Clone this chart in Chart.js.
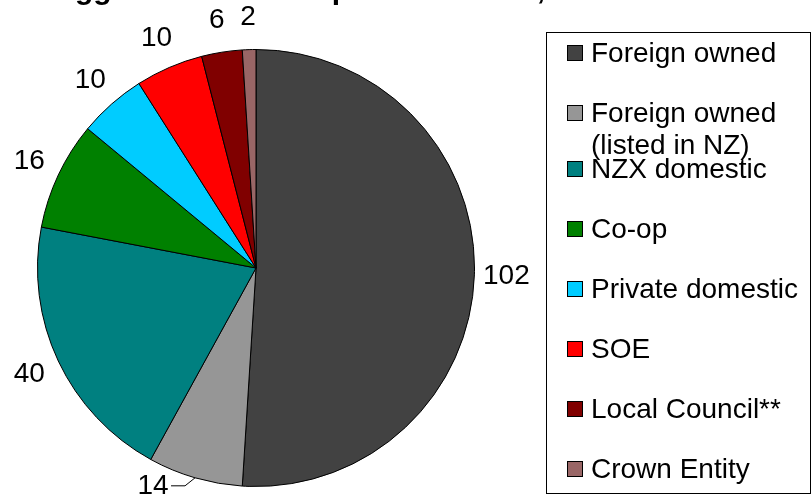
<!DOCTYPE html>
<html lang="en">
<head>
    <meta charset="UTF-8">
    <title>Biggest 200 NZ companies in 2010</title>
    <script src="https://cdn.jsdelivr.net/npm/chart.js"></script>
    <style>
        html, body {
            margin: 0;
            padding: 0;
            background: #fff;
            overflow: hidden;
        }
        .wrap {
            position: relative;
            width: 811px;
            height: 496px;
            font-family: Arial, "Liberation Sans", sans-serif;
        }
        #pieChart {
            position: absolute;
            left: 0;
            top: 0;
        }
        .legend-box {
            position: absolute;
            left: 546px;
            top: 32px;
            width: 265px;
            height: 462px;
            border: 1px solid #000;
            box-sizing: border-box;
        }
        .legend-item {
            position: absolute;
            left: 591px;
            font-size: 28px;
            line-height: 32px;
            color: #000;
            white-space: nowrap;
        }
        .legend-swatch {
            position: absolute;
            left: 567px;
            width: 16px;
            height: 16px;
            border: 1px solid #000;
            box-sizing: border-box;
        }
    </style>
</head>
<body>
<div class="wrap" id="wrap">
    <canvas id="pieChart" width="811" height="496"></canvas>
    <div class="legend-box"></div>
</div>

<script>
    // data
    const categories = ['Foreign owned', 'Foreign owned\n(listed in NZ)', 'NZX domestic', 'Co-op',
        'Private domestic', 'SOE', 'Local Council**', 'Crown Entity'];
    const counts = [102, 14, 40, 16, 10, 10, 6, 2];

    // styles
    const colours = ['#424242', '#969696', '#008080', '#008000', '#00ccff', '#ff0000', '#800000', '#996666'];
    const legendCapCentres = [53, 113, 169, 229, 289, 349, 409, 469];

    // legend drawn as html next to the canvas
    const wrap = document.getElementById('wrap');
    categories.forEach((name, i) => {
        const sw = document.createElement('div');
        sw.className = 'legend-swatch';
        sw.style.top = (legendCapCentres[i] - 8) + 'px';
        sw.style.background = colours[i];
        wrap.appendChild(sw);

        const txt = document.createElement('div');
        txt.className = 'legend-item';
        txt.style.top = (legendCapCentres[i] - 16) + 'px';
        txt.innerHTML = name.replace('\n', '<br>');
        wrap.appendChild(txt);
    });

    // title sits mostly above the top edge, like the original crop
    const cutTitle = {
        id: 'cutTitle',
        afterDraw(chart) {
            const ctx = chart.ctx;
            ctx.save();
            ctx.font = 'bold 30px Arial, "Liberation Sans", sans-serif';
            ctx.fillStyle = '#000';
            ctx.textAlign = 'left';
            ctx.textBaseline = 'alphabetic';
            ctx.fillText('Biggest 200 NZ companies in 2010, number', 45, -1);
            ctx.restore();
        }
    };

    const sliceLabels = {
        id: 'sliceLabels',
        afterDatasetsDraw(chart) {
            const ctx = chart.ctx;
            const meta = chart.getDatasetMeta(0);
            ctx.save();
            ctx.font = '28px Arial, "Liberation Sans", sans-serif';
            ctx.fillStyle = '#000';
            ctx.strokeStyle = '#000';
            ctx.lineWidth = 1;
            ctx.textAlign = 'center';
            ctx.textBaseline = 'middle';
            meta.data.forEach((arc, i) => {
                const p = arc.getProps(['x', 'y', 'startAngle', 'endAngle', 'outerRadius'], true);
                const mid = (p.startAngle + p.endAngle) / 2;
                const ex = p.x + Math.cos(mid) * p.outerRadius;
                const ey = p.y + Math.sin(mid) * p.outerRadius;
                let lx, ly;
                if (i === 1) {
                    // no room below the pie, so it is moved left with a leader line
                    ctx.beginPath();
                    ctx.moveTo(ex, ey);
                    ctx.lineTo(ex - 10, ey + 8);
                    ctx.lineTo(ex - 24, ey + 8);
                    ctx.stroke();
                    lx = ex - 42;
                    ly = ey + 8;
                } else {
                    lx = p.x + Math.cos(mid) * (p.outerRadius + 32);
                    ly = p.y + Math.sin(mid) * (p.outerRadius + 32);
                }
                ctx.fillText(String(counts[i]), lx, ly);
            });
            ctx.restore();
        }
    };

    const pieCtx = document.getElementById('pieChart').getContext('2d');
    const pieChart = new Chart(pieCtx, {
        type: 'pie',
        data: {
            labels: categories,
            datasets: [{
                data: counts,
                backgroundColor: colours,
                borderColor: '#000',
                borderWidth: 1
            }]
        },
        options: {
            responsive: false,
            animation: false,
            layout: {
                padding: { left: 37, right: 336, top: 49, bottom: 9 }
            },
            plugins: {
                legend: { display: false },
                tooltip: { enabled: false }
            }
        },
        plugins: [sliceLabels, cutTitle]
    });
</script>
</body>
</html>
